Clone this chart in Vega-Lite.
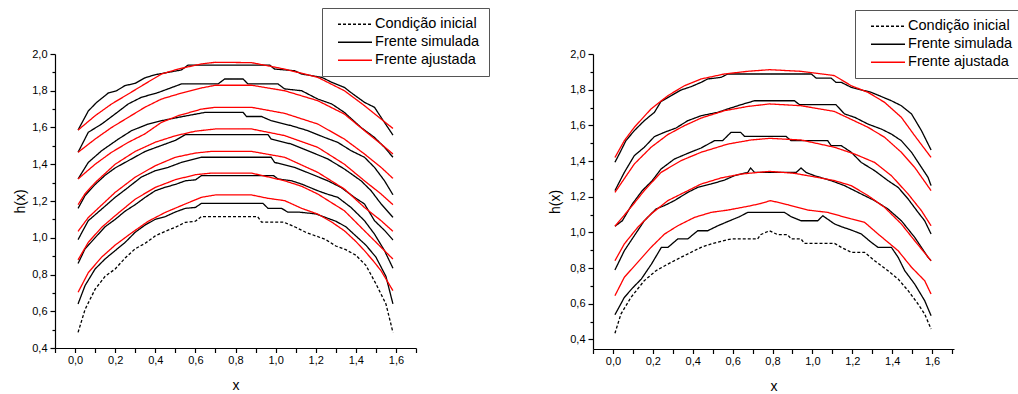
{
"$schema": "https://vega.github.io/schema/vega-lite/v6.json",
"background": "white",
"padding": {"left": 13, "top": 7, "right": 0, "bottom": 0},
"config": {"view": {"stroke": null}, "font": "Liberation Sans"},
"datasets": {
"L": [
{"k":"d","c":0,"x":0.015,"y":0.485},{"k":"d","c":0,"x":0.05,"y":0.61},{"k":"d","c":0,"x":0.1,"y":0.72},{"k":"d","c":0,"x":0.15,"y":0.79},{"k":"d","c":0,"x":0.2,"y":0.83},{"k":"d","c":0,"x":0.25,"y":0.89},{"k":"d","c":0,"x":0.3,"y":0.94},{"k":"d","c":0,"x":0.35,"y":0.97},{"k":"d","c":0,"x":0.4,"y":1.01},{"k":"d","c":0,"x":0.45,"y":1.035},{"k":"d","c":0,"x":0.5,"y":1.057},{"k":"d","c":0,"x":0.55,"y":1.084},{"k":"d","c":0,"x":0.6,"y":1.09},{"k":"d","c":0,"x":0.63,"y":1.115},{"k":"d","c":0,"x":0.91,"y":1.115},{"k":"d","c":0,"x":0.93,"y":1.085},{"k":"d","c":0,"x":1.04,"y":1.085},{"k":"d","c":0,"x":1.1,"y":1.057},{"k":"d","c":0,"x":1.15,"y":1.03},{"k":"d","c":0,"x":1.2,"y":1.01},{"k":"d","c":0,"x":1.25,"y":0.99},{"k":"d","c":0,"x":1.3,"y":0.955},{"k":"d","c":0,"x":1.35,"y":0.935},{"k":"d","c":0,"x":1.4,"y":0.905},{"k":"d","c":0,"x":1.45,"y":0.85},{"k":"d","c":0,"x":1.5,"y":0.75},{"k":"d","c":0,"x":1.55,"y":0.64},{"k":"d","c":0,"x":1.585,"y":0.485},
{"k":"b","c":1,"x":0.015,"y":0.64},{"k":"b","c":1,"x":0.05,"y":0.74},{"k":"b","c":1,"x":0.1,"y":0.83},{"k":"b","c":1,"x":0.15,"y":0.885},{"k":"b","c":1,"x":0.2,"y":0.93},{"k":"b","c":1,"x":0.25,"y":0.975},{"k":"b","c":1,"x":0.3,"y":1.03},{"k":"b","c":1,"x":0.35,"y":1.07},{"k":"b","c":1,"x":0.4,"y":1.1},{"k":"b","c":1,"x":0.45,"y":1.115},{"k":"b","c":1,"x":0.5,"y":1.14},{"k":"b","c":1,"x":0.55,"y":1.16},{"k":"b","c":1,"x":0.6,"y":1.165},{"k":"b","c":1,"x":0.63,"y":1.187},{"k":"b","c":1,"x":0.937,"y":1.187},{"k":"b","c":1,"x":0.962,"y":1.16},{"k":"b","c":1,"x":1.03,"y":1.16},{"k":"b","c":1,"x":1.06,"y":1.14},{"k":"b","c":1,"x":1.11,"y":1.14},{"k":"b","c":1,"x":1.2,"y":1.13},{"k":"b","c":1,"x":1.25,"y":1.11},{"k":"b","c":1,"x":1.3,"y":1.09},{"k":"b","c":1,"x":1.35,"y":1.06},{"k":"b","c":1,"x":1.4,"y":1.01},{"k":"b","c":1,"x":1.45,"y":0.96},{"k":"b","c":1,"x":1.5,"y":0.895},{"k":"b","c":1,"x":1.55,"y":0.79},{"k":"b","c":1,"x":1.585,"y":0.64},
{"k":"b","c":2,"x":0.015,"y":0.86},{"k":"b","c":2,"x":0.05,"y":0.94},{"k":"b","c":2,"x":0.1,"y":1.0},{"k":"b","c":2,"x":0.15,"y":1.06},{"k":"b","c":2,"x":0.2,"y":1.1},{"k":"b","c":2,"x":0.25,"y":1.145},{"k":"b","c":2,"x":0.3,"y":1.18},{"k":"b","c":2,"x":0.35,"y":1.22},{"k":"b","c":2,"x":0.4,"y":1.256},{"k":"b","c":2,"x":0.45,"y":1.275},{"k":"b","c":2,"x":0.5,"y":1.29},{"k":"b","c":2,"x":0.55,"y":1.31},{"k":"b","c":2,"x":0.6,"y":1.315},{"k":"b","c":2,"x":0.63,"y":1.338},{"k":"b","c":2,"x":0.99,"y":1.338},{"k":"b","c":2,"x":1.012,"y":1.32},{"k":"b","c":2,"x":1.08,"y":1.31},{"k":"b","c":2,"x":1.13,"y":1.292},{"k":"b","c":2,"x":1.21,"y":1.256},{"k":"b","c":2,"x":1.25,"y":1.24},{"k":"b","c":2,"x":1.31,"y":1.22},{"k":"b","c":2,"x":1.376,"y":1.165},{"k":"b","c":2,"x":1.443,"y":1.093},{"k":"b","c":2,"x":1.493,"y":1.02},{"k":"b","c":2,"x":1.543,"y":0.93},{"k":"b","c":2,"x":1.585,"y":0.834},
{"k":"b","c":3,"x":0.015,"y":0.99},{"k":"b","c":3,"x":0.066,"y":1.093},{"k":"b","c":3,"x":0.133,"y":1.156},{"k":"b","c":3,"x":0.2,"y":1.22},{"k":"b","c":3,"x":0.265,"y":1.274},{"k":"b","c":3,"x":0.33,"y":1.33},{"k":"b","c":3,"x":0.4,"y":1.365},{"k":"b","c":3,"x":0.464,"y":1.383},{"k":"b","c":3,"x":0.53,"y":1.41},{"k":"b","c":3,"x":0.63,"y":1.438},{"k":"b","c":3,"x":0.978,"y":1.438},{"k":"b","c":3,"x":0.995,"y":1.41},{"k":"b","c":3,"x":1.094,"y":1.383},{"k":"b","c":3,"x":1.177,"y":1.347},{"k":"b","c":3,"x":1.26,"y":1.31},{"k":"b","c":3,"x":1.326,"y":1.274},{"k":"b","c":3,"x":1.393,"y":1.22},{"k":"b","c":3,"x":1.443,"y":1.184},{"k":"b","c":3,"x":1.493,"y":1.093},{"k":"b","c":3,"x":1.543,"y":1.04},{"k":"b","c":3,"x":1.585,"y":0.988},
{"k":"b","c":4,"x":0.015,"y":1.16},{"k":"b","c":4,"x":0.05,"y":1.23},{"k":"b","c":4,"x":0.1,"y":1.29},{"k":"b","c":4,"x":0.15,"y":1.34},{"k":"b","c":4,"x":0.2,"y":1.38},{"k":"b","c":4,"x":0.25,"y":1.41},{"k":"b","c":4,"x":0.3,"y":1.44},{"k":"b","c":4,"x":0.35,"y":1.47},{"k":"b","c":4,"x":0.4,"y":1.49},{"k":"b","c":4,"x":0.45,"y":1.51},{"k":"b","c":4,"x":0.5,"y":1.53},{"k":"b","c":4,"x":0.55,"y":1.561},{"k":"b","c":4,"x":0.962,"y":1.561},{"k":"b","c":4,"x":0.978,"y":1.537},{"k":"b","c":4,"x":1.078,"y":1.51},{"k":"b","c":4,"x":1.16,"y":1.474},{"k":"b","c":4,"x":1.26,"y":1.429},{"k":"b","c":4,"x":1.343,"y":1.374},{"k":"b","c":4,"x":1.426,"y":1.31},{"k":"b","c":4,"x":1.476,"y":1.256},{"k":"b","c":4,"x":1.526,"y":1.184},{"k":"b","c":4,"x":1.585,"y":1.111},
{"k":"b","c":5,"x":0.015,"y":1.32},{"k":"b","c":5,"x":0.066,"y":1.41},{"k":"b","c":5,"x":0.133,"y":1.474},{"k":"b","c":5,"x":0.216,"y":1.537},{"k":"b","c":5,"x":0.282,"y":1.583},{"k":"b","c":5,"x":0.365,"y":1.619},{"k":"b","c":5,"x":0.431,"y":1.637},{"k":"b","c":5,"x":0.514,"y":1.655},{"k":"b","c":5,"x":0.647,"y":1.682},{"k":"b","c":5,"x":0.838,"y":1.682},{"k":"b","c":5,"x":0.855,"y":1.66},{"k":"b","c":5,"x":0.929,"y":1.66},{"k":"b","c":5,"x":0.978,"y":1.637},{"k":"b","c":5,"x":1.078,"y":1.61},{"k":"b","c":5,"x":1.16,"y":1.583},{"k":"b","c":5,"x":1.244,"y":1.546},{"k":"b","c":5,"x":1.31,"y":1.519},{"k":"b","c":5,"x":1.376,"y":1.474},{"k":"b","c":5,"x":1.443,"y":1.438},{"k":"b","c":5,"x":1.493,"y":1.383},{"k":"b","c":5,"x":1.543,"y":1.31},{"k":"b","c":5,"x":1.585,"y":1.234},
{"k":"b","c":6,"x":0.015,"y":1.465},{"k":"b","c":6,"x":0.066,"y":1.574},{"k":"b","c":6,"x":0.133,"y":1.619},{"k":"b","c":6,"x":0.199,"y":1.673},{"k":"b","c":6,"x":0.265,"y":1.728},{"k":"b","c":6,"x":0.33,"y":1.764},{"k":"b","c":6,"x":0.414,"y":1.79},{"k":"b","c":6,"x":0.53,"y":1.837},{"k":"b","c":6,"x":0.713,"y":1.837},{"k":"b","c":6,"x":0.746,"y":1.864},{"k":"b","c":6,"x":0.838,"y":1.864},{"k":"b","c":6,"x":0.862,"y":1.837},{"k":"b","c":6,"x":1.012,"y":1.837},{"k":"b","c":6,"x":1.045,"y":1.81},{"k":"b","c":6,"x":1.13,"y":1.8},{"k":"b","c":6,"x":1.21,"y":1.755},{"k":"b","c":6,"x":1.28,"y":1.728},{"k":"b","c":6,"x":1.343,"y":1.682},{"k":"b","c":6,"x":1.426,"y":1.6},{"k":"b","c":6,"x":1.493,"y":1.546},{"k":"b","c":6,"x":1.543,"y":1.492},{"k":"b","c":6,"x":1.585,"y":1.438},
{"k":"b","c":7,"x":0.015,"y":1.586},{"k":"b","c":7,"x":0.066,"y":1.69},{"k":"b","c":7,"x":0.108,"y":1.737},{"k":"b","c":7,"x":0.166,"y":1.788},{"k":"b","c":7,"x":0.207,"y":1.8},{"k":"b","c":7,"x":0.249,"y":1.828},{"k":"b","c":7,"x":0.299,"y":1.84},{"k":"b","c":7,"x":0.348,"y":1.87},{"k":"b","c":7,"x":0.398,"y":1.887},{"k":"b","c":7,"x":0.53,"y":1.913},{"k":"b","c":7,"x":0.564,"y":1.94},{"k":"b","c":7,"x":0.97,"y":1.94},{"k":"b","c":7,"x":0.995,"y":1.918},{"k":"b","c":7,"x":1.094,"y":1.909},{"k":"b","c":7,"x":1.13,"y":1.891},{"k":"b","c":7,"x":1.23,"y":1.873},{"k":"b","c":7,"x":1.28,"y":1.846},{"k":"b","c":7,"x":1.343,"y":1.818},{"k":"b","c":7,"x":1.376,"y":1.79},{"k":"b","c":7,"x":1.443,"y":1.737},{"k":"b","c":7,"x":1.493,"y":1.71},{"k":"b","c":7,"x":1.526,"y":1.655},{"k":"b","c":7,"x":1.585,"y":1.559},
{"k":"r","c":11,"x":0.015,"y":0.703},{"k":"r","c":11,"x":0.066,"y":0.81},{"k":"r","c":11,"x":0.133,"y":0.895},{"k":"r","c":11,"x":0.2,"y":0.96},{"k":"r","c":11,"x":0.28,"y":1.025},{"k":"r","c":11,"x":0.365,"y":1.09},{"k":"r","c":11,"x":0.45,"y":1.138},{"k":"r","c":11,"x":0.53,"y":1.175},{"k":"r","c":11,"x":0.63,"y":1.22},{"k":"r","c":11,"x":0.7,"y":1.233},{"k":"r","c":11,"x":0.88,"y":1.233},{"k":"r","c":11,"x":0.96,"y":1.215},{"k":"r","c":11,"x":1.045,"y":1.202},{"k":"r","c":11,"x":1.13,"y":1.16},{"k":"r","c":11,"x":1.21,"y":1.129},{"k":"r","c":11,"x":1.28,"y":1.085},{"k":"r","c":11,"x":1.343,"y":1.038},{"k":"r","c":11,"x":1.4,"y":0.98},{"k":"r","c":11,"x":1.443,"y":0.93},{"k":"r","c":11,"x":1.49,"y":0.87},{"k":"r","c":11,"x":1.526,"y":0.82},{"k":"r","c":11,"x":1.585,"y":0.712},
{"k":"r","c":12,"x":0.015,"y":0.88},{"k":"r","c":12,"x":0.066,"y":0.975},{"k":"r","c":12,"x":0.133,"y":1.057},{"k":"r","c":12,"x":0.2,"y":1.12},{"k":"r","c":12,"x":0.3,"y":1.21},{"k":"r","c":12,"x":0.4,"y":1.274},{"k":"r","c":12,"x":0.5,"y":1.316},{"k":"r","c":12,"x":0.6,"y":1.343},{"k":"r","c":12,"x":0.68,"y":1.352},{"k":"r","c":12,"x":0.88,"y":1.352},{"k":"r","c":12,"x":1.045,"y":1.31},{"k":"r","c":12,"x":1.13,"y":1.28},{"k":"r","c":12,"x":1.21,"y":1.238},{"k":"r","c":12,"x":1.28,"y":1.19},{"k":"r","c":12,"x":1.343,"y":1.147},{"k":"r","c":12,"x":1.443,"y":1.038},{"k":"r","c":12,"x":1.526,"y":0.948},{"k":"r","c":12,"x":1.585,"y":0.884},
{"k":"r","c":13,"x":0.015,"y":1.035},{"k":"r","c":13,"x":0.066,"y":1.11},{"k":"r","c":13,"x":0.2,"y":1.247},{"k":"r","c":13,"x":0.3,"y":1.33},{"k":"r","c":13,"x":0.4,"y":1.392},{"k":"r","c":13,"x":0.5,"y":1.438},{"k":"r","c":13,"x":0.6,"y":1.461},{"k":"r","c":13,"x":0.68,"y":1.47},{"k":"r","c":13,"x":0.88,"y":1.47},{"k":"r","c":13,"x":1.045,"y":1.438},{"k":"r","c":13,"x":1.21,"y":1.356},{"k":"r","c":13,"x":1.343,"y":1.265},{"k":"r","c":13,"x":1.443,"y":1.165},{"k":"r","c":13,"x":1.526,"y":1.093},{"k":"r","c":13,"x":1.585,"y":1.035},
{"k":"r","c":14,"x":0.015,"y":1.18},{"k":"r","c":14,"x":0.05,"y":1.24},{"k":"r","c":14,"x":0.1,"y":1.3},{"k":"r","c":14,"x":0.15,"y":1.35},{"k":"r","c":14,"x":0.2,"y":1.4},{"k":"r","c":14,"x":0.3,"y":1.47},{"k":"r","c":14,"x":0.4,"y":1.52},{"k":"r","c":14,"x":0.5,"y":1.555},{"k":"r","c":14,"x":0.6,"y":1.58},{"k":"r","c":14,"x":0.7,"y":1.592},{"k":"r","c":14,"x":0.88,"y":1.592},{"k":"r","c":14,"x":1.045,"y":1.556},{"k":"r","c":14,"x":1.21,"y":1.492},{"k":"r","c":14,"x":1.343,"y":1.4},{"k":"r","c":14,"x":1.443,"y":1.31},{"k":"r","c":14,"x":1.526,"y":1.238},{"k":"r","c":14,"x":1.585,"y":1.18},
{"k":"r","c":15,"x":0.015,"y":1.32},{"k":"r","c":15,"x":0.1,"y":1.4},{"k":"r","c":15,"x":0.182,"y":1.465},{"k":"r","c":15,"x":0.265,"y":1.519},{"k":"r","c":15,"x":0.348,"y":1.565},{"k":"r","c":15,"x":0.431,"y":1.628},{"k":"r","c":15,"x":0.514,"y":1.664},{"k":"r","c":15,"x":0.63,"y":1.7},{"k":"r","c":15,"x":0.7,"y":1.71},{"k":"r","c":15,"x":0.88,"y":1.71},{"k":"r","c":15,"x":1.045,"y":1.677},{"k":"r","c":15,"x":1.21,"y":1.619},{"k":"r","c":15,"x":1.343,"y":1.537},{"k":"r","c":15,"x":1.443,"y":1.456},{"k":"r","c":15,"x":1.526,"y":1.383},{"k":"r","c":15,"x":1.585,"y":1.323},
{"k":"r","c":16,"x":0.015,"y":1.465},{"k":"r","c":16,"x":0.1,"y":1.537},{"k":"r","c":16,"x":0.182,"y":1.6},{"k":"r","c":16,"x":0.265,"y":1.655},{"k":"r","c":16,"x":0.348,"y":1.71},{"k":"r","c":16,"x":0.431,"y":1.755},{"k":"r","c":16,"x":0.514,"y":1.782},{"k":"r","c":16,"x":0.63,"y":1.815},{"k":"r","c":16,"x":0.7,"y":1.83},{"k":"r","c":16,"x":0.88,"y":1.83},{"k":"r","c":16,"x":1.045,"y":1.8},{"k":"r","c":16,"x":1.21,"y":1.746},{"k":"r","c":16,"x":1.343,"y":1.673},{"k":"r","c":16,"x":1.443,"y":1.583},{"k":"r","c":16,"x":1.526,"y":1.51},{"k":"r","c":16,"x":1.585,"y":1.456},
{"k":"r","c":17,"x":0.015,"y":1.586},{"k":"r","c":17,"x":0.1,"y":1.664},{"k":"r","c":17,"x":0.182,"y":1.728},{"k":"r","c":17,"x":0.265,"y":1.782},{"k":"r","c":17,"x":0.348,"y":1.837},{"k":"r","c":17,"x":0.431,"y":1.891},{"k":"r","c":17,"x":0.514,"y":1.918},{"k":"r","c":17,"x":0.63,"y":1.946},{"k":"r","c":17,"x":0.7,"y":1.955},{"k":"r","c":17,"x":0.88,"y":1.953},{"k":"r","c":17,"x":1.045,"y":1.918},{"k":"r","c":17,"x":1.21,"y":1.873},{"k":"r","c":17,"x":1.343,"y":1.8},{"k":"r","c":17,"x":1.443,"y":1.719},{"k":"r","c":17,"x":1.526,"y":1.646},{"k":"r","c":17,"x":1.585,"y":1.595}
],
"R": [
{"k":"d","c":0,"x":0.01,"y":0.434},{"k":"d","c":0,"x":0.04,"y":0.542},{"k":"d","c":0,"x":0.09,"y":0.635},{"k":"d","c":0,"x":0.157,"y":0.729},{"k":"d","c":0,"x":0.216,"y":0.785},{"k":"d","c":0,"x":0.275,"y":0.822},{"k":"d","c":0,"x":0.341,"y":0.86},{"k":"d","c":0,"x":0.442,"y":0.916},{"k":"d","c":0,"x":0.5,"y":0.938},{"k":"d","c":0,"x":0.592,"y":0.963},{"k":"d","c":0,"x":0.725,"y":0.963},{"k":"d","c":0,"x":0.74,"y":0.987},{"k":"d","c":0,"x":0.785,"y":1.009},{"k":"d","c":0,"x":0.826,"y":0.987},{"k":"d","c":0,"x":0.876,"y":0.987},{"k":"d","c":0,"x":0.893,"y":0.963},{"k":"d","c":0,"x":0.943,"y":0.963},{"k":"d","c":0,"x":0.96,"y":0.938},{"k":"d","c":0,"x":1.111,"y":0.938},{"k":"d","c":0,"x":1.145,"y":0.916},{"k":"d","c":0,"x":1.195,"y":0.888},{"k":"d","c":0,"x":1.262,"y":0.888},{"k":"d","c":0,"x":1.312,"y":0.841},{"k":"d","c":0,"x":1.379,"y":0.785},{"k":"d","c":0,"x":1.43,"y":0.738},{"k":"d","c":0,"x":1.48,"y":0.673},{"k":"d","c":0,"x":1.53,"y":0.598},{"k":"d","c":0,"x":1.563,"y":0.542},{"k":"d","c":0,"x":1.595,"y":0.458},
{"k":"b","c":1,"x":0.01,"y":0.538},{"k":"b","c":1,"x":0.057,"y":0.635},{"k":"b","c":1,"x":0.1,"y":0.69},{"k":"b","c":1,"x":0.142,"y":0.738},{"k":"b","c":1,"x":0.193,"y":0.822},{"k":"b","c":1,"x":0.243,"y":0.916},{"k":"b","c":1,"x":0.276,"y":0.916},{"k":"b","c":1,"x":0.325,"y":0.963},{"k":"b","c":1,"x":0.375,"y":0.963},{"k":"b","c":1,"x":0.425,"y":1.009},{"k":"b","c":1,"x":0.475,"y":1.009},{"k":"b","c":1,"x":0.526,"y":1.037},{"k":"b","c":1,"x":0.585,"y":1.065},{"k":"b","c":1,"x":0.635,"y":1.088},{"k":"b","c":1,"x":0.676,"y":1.112},{"k":"b","c":1,"x":0.86,"y":1.112},{"k":"b","c":1,"x":0.893,"y":1.088},{"k":"b","c":1,"x":0.943,"y":1.065},{"k":"b","c":1,"x":1.027,"y":1.065},{"k":"b","c":1,"x":1.052,"y":1.093},{"k":"b","c":1,"x":1.111,"y":1.047},{"k":"b","c":1,"x":1.145,"y":1.032},{"k":"b","c":1,"x":1.195,"y":1.013},{"k":"b","c":1,"x":1.245,"y":0.991},{"k":"b","c":1,"x":1.295,"y":0.944},{"k":"b","c":1,"x":1.329,"y":0.916},{"k":"b","c":1,"x":1.396,"y":0.916},{"k":"b","c":1,"x":1.43,"y":0.86},{"k":"b","c":1,"x":1.463,"y":0.785},{"k":"b","c":1,"x":1.513,"y":0.71},{"k":"b","c":1,"x":1.563,"y":0.617},{"k":"b","c":1,"x":1.595,"y":0.533},
{"k":"b","c":2,"x":0.01,"y":0.789},{"k":"b","c":2,"x":0.057,"y":0.897},{"k":"b","c":2,"x":0.107,"y":0.981},{"k":"b","c":2,"x":0.157,"y":1.065},{"k":"b","c":2,"x":0.216,"y":1.131},{"k":"b","c":2,"x":0.258,"y":1.15},{"k":"b","c":2,"x":0.308,"y":1.178},{"k":"b","c":2,"x":0.375,"y":1.224},{"k":"b","c":2,"x":0.425,"y":1.252},{"k":"b","c":2,"x":0.492,"y":1.271},{"k":"b","c":2,"x":0.559,"y":1.293},{"k":"b","c":2,"x":0.609,"y":1.318},{"k":"b","c":2,"x":0.676,"y":1.336},{"k":"b","c":2,"x":0.69,"y":1.361},{"k":"b","c":2,"x":0.71,"y":1.336},{"k":"b","c":2,"x":0.919,"y":1.336},{"k":"b","c":2,"x":0.943,"y":1.361},{"k":"b","c":2,"x":0.968,"y":1.336},{"k":"b","c":2,"x":1.01,"y":1.318},{"k":"b","c":2,"x":1.094,"y":1.29},{"k":"b","c":2,"x":1.161,"y":1.262},{"k":"b","c":2,"x":1.245,"y":1.215},{"k":"b","c":2,"x":1.312,"y":1.178},{"k":"b","c":2,"x":1.379,"y":1.131},{"k":"b","c":2,"x":1.446,"y":1.065},{"k":"b","c":2,"x":1.513,"y":0.972},{"k":"b","c":2,"x":1.58,"y":0.86},{"k":"b","c":2,"x":1.595,"y":0.841},
{"k":"b","c":3,"x":0.01,"y":1.034},{"k":"b","c":3,"x":0.047,"y":1.065},{"k":"b","c":3,"x":0.097,"y":1.159},{"k":"b","c":3,"x":0.147,"y":1.234},{"k":"b","c":3,"x":0.197,"y":1.29},{"k":"b","c":3,"x":0.241,"y":1.355},{"k":"b","c":3,"x":0.308,"y":1.411},{"k":"b","c":3,"x":0.375,"y":1.443},{"k":"b","c":3,"x":0.442,"y":1.473},{"k":"b","c":3,"x":0.509,"y":1.514},{"k":"b","c":3,"x":0.55,"y":1.514},{"k":"b","c":3,"x":0.592,"y":1.561},{"k":"b","c":3,"x":0.64,"y":1.561},{"k":"b","c":3,"x":0.66,"y":1.538},{"k":"b","c":3,"x":0.868,"y":1.538},{"k":"b","c":3,"x":0.893,"y":1.514},{"k":"b","c":3,"x":1.077,"y":1.514},{"k":"b","c":3,"x":1.094,"y":1.486},{"k":"b","c":3,"x":1.145,"y":1.486},{"k":"b","c":3,"x":1.195,"y":1.449},{"k":"b","c":3,"x":1.245,"y":1.392},{"k":"b","c":3,"x":1.312,"y":1.346},{"k":"b","c":3,"x":1.379,"y":1.29},{"k":"b","c":3,"x":1.43,"y":1.252},{"k":"b","c":3,"x":1.48,"y":1.187},{"k":"b","c":3,"x":1.53,"y":1.112},{"k":"b","c":3,"x":1.563,"y":1.065},{"k":"b","c":3,"x":1.595,"y":0.991},
{"k":"b","c":4,"x":0.01,"y":1.234},{"k":"b","c":4,"x":0.057,"y":1.336},{"k":"b","c":4,"x":0.107,"y":1.43},{"k":"b","c":4,"x":0.157,"y":1.477},{"k":"b","c":4,"x":0.208,"y":1.537},{"k":"b","c":4,"x":0.258,"y":1.561},{"k":"b","c":4,"x":0.316,"y":1.585},{"k":"b","c":4,"x":0.375,"y":1.626},{"k":"b","c":4,"x":0.442,"y":1.654},{"k":"b","c":4,"x":0.526,"y":1.673},{"k":"b","c":4,"x":0.576,"y":1.692},{"k":"b","c":4,"x":0.643,"y":1.716},{"k":"b","c":4,"x":0.71,"y":1.738},{"k":"b","c":4,"x":0.91,"y":1.738},{"k":"b","c":4,"x":0.935,"y":1.716},{"k":"b","c":4,"x":1.118,"y":1.716},{"k":"b","c":4,"x":1.161,"y":1.664},{"k":"b","c":4,"x":1.212,"y":1.645},{"k":"b","c":4,"x":1.279,"y":1.607},{"k":"b","c":4,"x":1.346,"y":1.579},{"k":"b","c":4,"x":1.396,"y":1.551},{"k":"b","c":4,"x":1.446,"y":1.514},{"k":"b","c":4,"x":1.497,"y":1.449},{"k":"b","c":4,"x":1.547,"y":1.364},{"k":"b","c":4,"x":1.58,"y":1.308},{"k":"b","c":4,"x":1.595,"y":1.262},
{"k":"b","c":5,"x":0.01,"y":1.393},{"k":"b","c":5,"x":0.032,"y":1.44},{"k":"b","c":5,"x":0.065,"y":1.514},{"k":"b","c":5,"x":0.107,"y":1.57},{"k":"b","c":5,"x":0.157,"y":1.626},{"k":"b","c":5,"x":0.208,"y":1.673},{"k":"b","c":5,"x":0.241,"y":1.734},{"k":"b","c":5,"x":0.291,"y":1.766},{"k":"b","c":5,"x":0.341,"y":1.798},{"k":"b","c":5,"x":0.392,"y":1.817},{"k":"b","c":5,"x":0.442,"y":1.841},{"k":"b","c":5,"x":0.475,"y":1.86},{"k":"b","c":5,"x":0.542,"y":1.869},{"k":"b","c":5,"x":0.576,"y":1.888},{"k":"b","c":5,"x":0.994,"y":1.888},{"k":"b","c":5,"x":1.019,"y":1.865},{"k":"b","c":5,"x":1.094,"y":1.865},{"k":"b","c":5,"x":1.118,"y":1.841},{"k":"b","c":5,"x":1.145,"y":1.841},{"k":"b","c":5,"x":1.195,"y":1.813},{"k":"b","c":5,"x":1.295,"y":1.785},{"k":"b","c":5,"x":1.396,"y":1.738},{"k":"b","c":5,"x":1.446,"y":1.71},{"k":"b","c":5,"x":1.497,"y":1.664},{"k":"b","c":5,"x":1.547,"y":1.57},{"k":"b","c":5,"x":1.595,"y":1.462},
{"k":"r","c":11,"x":0.01,"y":0.645},{"k":"r","c":11,"x":0.057,"y":0.748},{"k":"r","c":11,"x":0.124,"y":0.832},{"k":"r","c":11,"x":0.191,"y":0.916},{"k":"r","c":11,"x":0.258,"y":0.99},{"k":"r","c":11,"x":0.325,"y":1.037},{"k":"r","c":11,"x":0.409,"y":1.084},{"k":"r","c":11,"x":0.492,"y":1.112},{"k":"r","c":11,"x":0.576,"y":1.125},{"k":"r","c":11,"x":0.676,"y":1.146},{"k":"r","c":11,"x":0.743,"y":1.162},{"k":"r","c":11,"x":0.79,"y":1.178},{"k":"r","c":11,"x":0.877,"y":1.155},{"k":"r","c":11,"x":0.977,"y":1.125},{"k":"r","c":11,"x":1.077,"y":1.112},{"k":"r","c":11,"x":1.195,"y":1.075},{"k":"r","c":11,"x":1.262,"y":1.056},{"k":"r","c":11,"x":1.329,"y":0.991},{"k":"r","c":11,"x":1.43,"y":0.897},{"k":"r","c":11,"x":1.497,"y":0.804},{"k":"r","c":11,"x":1.563,"y":0.729},{"k":"r","c":11,"x":1.595,"y":0.654},
{"k":"r","c":12,"x":0.01,"y":0.841},{"k":"r","c":12,"x":0.057,"y":0.935},{"k":"r","c":12,"x":0.124,"y":1.028},{"k":"r","c":12,"x":0.191,"y":1.103},{"k":"r","c":12,"x":0.275,"y":1.178},{"k":"r","c":12,"x":0.358,"y":1.224},{"k":"r","c":12,"x":0.442,"y":1.271},{"k":"r","c":12,"x":0.542,"y":1.305},{"k":"r","c":12,"x":0.643,"y":1.327},{"k":"r","c":12,"x":0.785,"y":1.342},{"k":"r","c":12,"x":0.91,"y":1.331},{"k":"r","c":12,"x":1.026,"y":1.308},{"k":"r","c":12,"x":1.111,"y":1.29},{"k":"r","c":12,"x":1.195,"y":1.262},{"k":"r","c":12,"x":1.279,"y":1.206},{"k":"r","c":12,"x":1.362,"y":1.14},{"k":"r","c":12,"x":1.446,"y":1.047},{"k":"r","c":12,"x":1.513,"y":0.953},{"k":"r","c":12,"x":1.595,"y":0.841},
{"k":"r","c":13,"x":0.01,"y":1.034},{"k":"r","c":13,"x":0.097,"y":1.15},{"k":"r","c":13,"x":0.157,"y":1.234},{"k":"r","c":13,"x":0.241,"y":1.336},{"k":"r","c":13,"x":0.341,"y":1.402},{"k":"r","c":13,"x":0.442,"y":1.449},{"k":"r","c":13,"x":0.576,"y":1.495},{"k":"r","c":13,"x":0.693,"y":1.518},{"k":"r","c":13,"x":0.785,"y":1.527},{"k":"r","c":13,"x":0.943,"y":1.518},{"k":"r","c":13,"x":1.111,"y":1.477},{"k":"r","c":13,"x":1.212,"y":1.439},{"k":"r","c":13,"x":1.312,"y":1.392},{"k":"r","c":13,"x":1.396,"y":1.318},{"k":"r","c":13,"x":1.48,"y":1.215},{"k":"r","c":13,"x":1.547,"y":1.121},{"k":"r","c":13,"x":1.595,"y":1.037},
{"k":"r","c":14,"x":0.01,"y":1.224},{"k":"r","c":14,"x":0.107,"y":1.383},{"k":"r","c":14,"x":0.191,"y":1.477},{"k":"r","c":14,"x":0.275,"y":1.548},{"k":"r","c":14,"x":0.358,"y":1.598},{"k":"r","c":14,"x":0.442,"y":1.641},{"k":"r","c":14,"x":0.559,"y":1.682},{"k":"r","c":14,"x":0.676,"y":1.706},{"k":"r","c":14,"x":0.785,"y":1.72},{"k":"r","c":14,"x":0.943,"y":1.71},{"k":"r","c":14,"x":1.11,"y":1.678},{"k":"r","c":14,"x":1.279,"y":1.589},{"k":"r","c":14,"x":1.362,"y":1.533},{"k":"r","c":14,"x":1.446,"y":1.449},{"k":"r","c":14,"x":1.513,"y":1.364},{"k":"r","c":14,"x":1.595,"y":1.234},
{"k":"r","c":15,"x":0.01,"y":1.42},{"k":"r","c":15,"x":0.057,"y":1.514},{"k":"r","c":15,"x":0.107,"y":1.589},{"k":"r","c":15,"x":0.191,"y":1.692},{"k":"r","c":15,"x":0.275,"y":1.766},{"k":"r","c":15,"x":0.358,"y":1.822},{"k":"r","c":15,"x":0.442,"y":1.86},{"k":"r","c":15,"x":0.559,"y":1.888},{"k":"r","c":15,"x":0.676,"y":1.903},{"k":"r","c":15,"x":0.785,"y":1.912},{"k":"r","c":15,"x":0.943,"y":1.903},{"k":"r","c":15,"x":1.11,"y":1.879},{"k":"r","c":15,"x":1.195,"y":1.822},{"k":"r","c":15,"x":1.279,"y":1.785},{"k":"r","c":15,"x":1.362,"y":1.729},{"k":"r","c":15,"x":1.446,"y":1.645},{"k":"r","c":15,"x":1.513,"y":1.542},{"k":"r","c":15,"x":1.595,"y":1.42}
]
},
"hconcat": [
{
"width": 361, "height": 294,
"data": {"name": "L"},
"mark": {"type": "line", "strokeWidth": 1.3},
"encoding": {
"x": {"field": "x", "type": "quantitative", "scale": {"domain": [-0.1, 1.7], "nice": false, "zero": false},
 "axis": {"title": "x", "values": [-0.1,0,0.1,0.2,0.3,0.4,0.5,0.6,0.7,0.8,0.9,1,1.1,1.2,1.3,1.4,1.5,1.6,1.7], "labelExpr": "round(datum.value*10)%2==0 && datum.value>=0 && datum.value<1.65 ? replace(format(datum.value,'.1f'),'.',',') : ''", "grid": false, "tickSize": 4.5, "labelPadding": 2, "labelFontSize": 11, "labelColor": "#000", "labelFont": "Liberation Sans", "labelFlush": false, "labelOverlap": false, "titleFontSize": 14, "titleFontWeight": "normal", "titleFont": "Liberation Sans", "titleColor": "#000", "titlePadding": 13, "domainColor": "#000", "domainWidth": 1.2, "tickColor": "#000", "tickWidth": 1.2}},
"y": {"field": "y", "type": "quantitative", "scale": {"domain": [0.4, 2.0], "nice": false, "zero": false},
 "axis": {"title": "h(x)", "values": [0.4,0.5,0.6,0.7,0.8,0.9,1,1.1,1.2,1.3,1.4,1.5,1.6,1.7,1.8,1.9,2], "labelExpr": "round(datum.value*10)%2==0 ? replace(format(datum.value,'.1f'),'.',',') : ''", "grid": false, "tickSize": {"condition": {"test": "round(datum.value*10)%2==0", "value": 5}, "value": 3}, "labelPadding": 3, "labelFontSize": 11, "labelColor": "#000", "labelFont": "Liberation Sans", "labelFlush": false, "labelOverlap": false, "titleFontSize": 14, "titleFontWeight": "normal", "titleFont": "Liberation Sans", "titleColor": "#000", "titlePadding": 4, "domainColor": "#000", "domainWidth": 1.2, "tickColor": "#000", "tickWidth": 1.2}},
"color": {"field": "k", "type": "nominal", "scale": {"domain": ["d","b","r"], "range": ["#000000","#000000","#ff0000"]},
 "legend": {"title": null, "orient": "none", "legendX": 267, "legendY": -46, "symbolType": "M-3.4,0L3.4,0", "symbolSize": 100, "symbolStrokeWidth": 1.5, "labelFontSize": 14.5, "labelFont": "Liberation Sans", "labelColor": "#000", "labelOffset": 12.8, "padding": 9, "symbolOffset": 16.75, "rowPadding": 3, "strokeColor": "#555", "fillColor": "white", "labelExpr": "datum.label=='d'?'Condição inicial':datum.label=='b'?'Frente simulada':'Frente ajustada'"}},
"strokeDash": {"field": "k", "type": "nominal", "scale": {"domain": ["d","b","r"], "range": [[3,2],[1,0],[1,0]]},
 "legend": {"title": null, "orient": "none", "legendX": 267, "legendY": -46, "symbolType": "M-3.4,0L3.4,0", "symbolSize": 100, "symbolStrokeWidth": 1.5, "labelFontSize": 14.5, "labelFont": "Liberation Sans", "labelColor": "#000", "labelOffset": 12.8, "padding": 9, "symbolOffset": 16.75, "rowPadding": 3, "strokeColor": "#555", "fillColor": "white", "labelExpr": "datum.label=='d'?'Condição inicial':datum.label=='b'?'Frente simulada':'Frente ajustada'"}},
"detail": {"field": "c", "type": "nominal"}
}
},
{
"width": 361, "height": 295,
"data": {"name": "R"},
"mark": {"type": "line", "strokeWidth": 1.3},
"encoding": {
"x": {"field": "x", "type": "quantitative", "scale": {"domain": [-0.1, 1.71], "nice": false, "zero": false},
 "axis": {"title": "x", "values": [-0.1,0,0.1,0.2,0.3,0.4,0.5,0.6,0.7,0.8,0.9,1,1.1,1.2,1.3,1.4,1.5,1.6,1.7], "labelExpr": "round(datum.value*10)%2==0 && datum.value>=0 && datum.value<1.65 ? replace(format(datum.value,'.1f'),'.',',') : ''", "grid": false, "tickSize": 4.5, "labelPadding": 2, "labelFontSize": 11, "labelColor": "#000", "labelFont": "Liberation Sans", "labelFlush": false, "labelOverlap": false, "titleFontSize": 14, "titleFontWeight": "normal", "titleFont": "Liberation Sans", "titleColor": "#000", "titlePadding": 13, "domainColor": "#000", "domainWidth": 1.2, "tickColor": "#000", "tickWidth": 1.2}},
"y": {"field": "y", "type": "quantitative", "scale": {"domain": [0.346, 2.0], "nice": false, "zero": false},
 "axis": {"title": "h(x)", "values": [0.4,0.5,0.6,0.7,0.8,0.9,1,1.1,1.2,1.3,1.4,1.5,1.6,1.7,1.8,1.9,2], "labelExpr": "round(datum.value*10)%2==0 ? replace(format(datum.value,'.1f'),'.',',') : ''", "grid": false, "tickSize": {"condition": {"test": "round(datum.value*10)%2==0", "value": 5}, "value": 3}, "labelPadding": 3, "labelFontSize": 11, "labelColor": "#000", "labelFont": "Liberation Sans", "labelFlush": false, "labelOverlap": false, "titleFontSize": 14, "titleFontWeight": "normal", "titleFont": "Liberation Sans", "titleColor": "#000", "titlePadding": 7, "domainColor": "#000", "domainWidth": 1.2, "tickColor": "#000", "tickWidth": 1.2}},
"color": {"field": "k", "type": "nominal", "scale": {"domain": ["d","b","r"], "range": ["#000000","#000000","#ff0000"]},
 "legend": {"title": null, "orient": "none", "legendX": 262, "legendY": -44, "symbolType": "M-3.4,0L3.4,0", "symbolSize": 100, "symbolStrokeWidth": 1.5, "labelFontSize": 14.5, "labelFont": "Liberation Sans", "labelColor": "#000", "labelOffset": 12.8, "padding": 9, "symbolOffset": 16.75, "rowPadding": 3, "strokeColor": "#555", "fillColor": "white", "labelExpr": "datum.label=='d'?'Condição inicial':datum.label=='b'?'Frente simulada':'Frente ajustada'"}},
"strokeDash": {"field": "k", "type": "nominal", "scale": {"domain": ["d","b","r"], "range": [[3,2],[1,0],[1,0]]},
 "legend": {"title": null, "orient": "none", "legendX": 262, "legendY": -44, "symbolType": "M-3.4,0L3.4,0", "symbolSize": 100, "symbolStrokeWidth": 1.5, "labelFontSize": 14.5, "labelFont": "Liberation Sans", "labelColor": "#000", "labelOffset": 12.8, "padding": 9, "symbolOffset": 16.75, "rowPadding": 3, "strokeColor": "#555", "fillColor": "white", "labelExpr": "datum.label=='d'?'Condição inicial':datum.label=='b'?'Frente simulada':'Frente ajustada'"}},
"detail": {"field": "c", "type": "nominal"}
}
}
],
"spacing": 177,
"bounds": "flush",
"resolve": {"scale": {"color": "independent", "strokeDash": "independent"}, "legend": {"color": "independent", "strokeDash": "independent"}}
}
